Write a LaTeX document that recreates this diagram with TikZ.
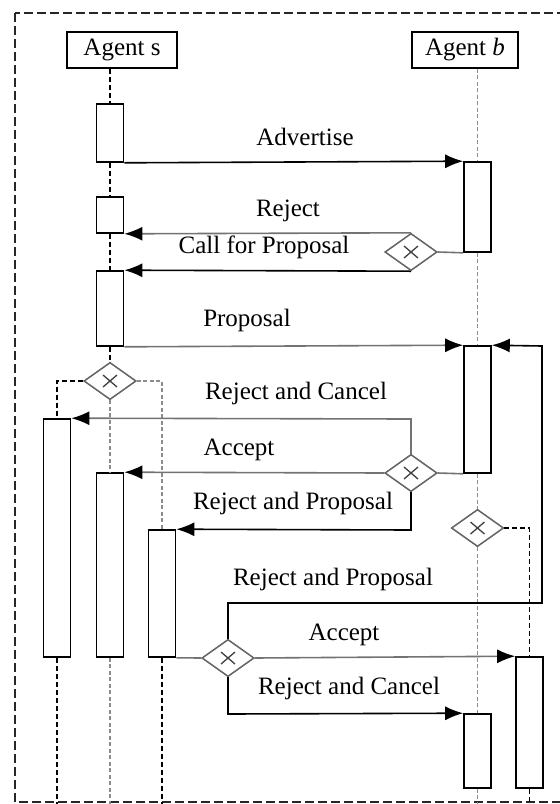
\documentclass[tikz,border=0pt]{standalone}
\usepackage{fontspec}
\setmainfont{Liberation Serif}
\usetikzlibrary{arrows.meta,shapes.geometric}
\begin{document}
\begin{tikzpicture}[x=1pt,y=-1pt,
  lbl/.style={font=\fontsize{25}{28}\selectfont, inner sep=0pt},
  agent/.style={draw, line width=1.6pt, minimum height=36pt, inner sep=0pt, font=\fontsize{25}{28}\selectfont},
  act/.style={draw, line width=1.6pt, minimum width=27pt, inner sep=0pt, fill=white},
  gate/.style={draw=black!60, line width=1.4pt, diamond, minimum width=52pt, minimum height=37pt, inner sep=0pt, aspect=1.4, fill=white,
    path picture={\draw[black!75, line width=1.3pt] ([shift={(-7pt,-6pt)}]path picture bounding box.center) -- ([shift={(7pt,6pt)}]path picture bounding box.center)
      ([shift={(-7pt,6pt)}]path picture bounding box.center) -- ([shift={(7pt,-6pt)}]path picture bounding box.center);}},
  msg/.style={line width=1.6pt, -{Latex[length=18pt,width=14pt,color=black]}},
  msggray/.style={msg, draw=black!55},
  lnk/.style={line width=1.6pt, draw=black!55},
  life/.style={line width=1.8pt, dash pattern=on 5pt off 3pt},
  lifegray/.style={line width=1.8pt, dash pattern=on 4pt off 2.5pt, draw=black!45},
  frame/.style={line width=1.8pt, dash pattern=on 9pt off 4pt, draw=black!85}]
\clip (0,0) rectangle (560,804);
\fill[white] (0,0) rectangle (560,804);
\draw[frame] (15,13) rectangle (600,802);

% agents
\node[agent, minimum width=110pt] (as) at (122,50) {Agent s};
\node[agent, minimum width=106pt] (ab) at (465,50) {Agent \textit{b}};

% activations (agent s side)
\node[act, minimum height=58pt] (s1) at (110,133) {};
\node[act, minimum height=36pt] (s2) at (110,215) {};
\node[act, minimum height=75pt] (s3) at (110,308.5) {};
\node[act, minimum height=238pt] (sL) at (57,538) {};
\node[act, minimum height=184pt] (s4) at (110,565) {};
\node[act, minimum height=127pt] (s5) at (162,593.5) {};
% activations (agent b side)
\node[act, minimum height=90pt] (b1) at (477.5,207) {};
\node[act, minimum height=127pt] (b2) at (477.5,409.5) {};
\node[act, minimum height=74pt] (b3) at (477.5,751) {};
\node[act, minimum height=131pt] (b4) at (529.5,722.5) {};

% gateways
\node[gate] (d1) at (411,252) {};
\node[gate] (d2) at (110,381) {};
\node[gate] (d4) at (411,473) {};
\node[gate] (d5) at (477.5,528) {};
\node[gate] (d3) at (228,658) {};

% helper coordinates
\coordinate (c2l) at (57,381);
\coordinate (c2r) at (162,381);
\coordinate (c4u) at (411,419);
\coordinate (c4d) at (411,530);
\coordinate (c5r) at (529.5,528);
\coordinate (c3u) at (228,603);
\coordinate (cr1) at (542,603);
\coordinate (cr2) at (542,346);
\coordinate (c3d) at (228,714);
\coordinate (eL) at (57,804);
\coordinate (e4) at (110,804);
\coordinate (e5) at (162,804);
\coordinate (eb3) at (477.5,804);
\coordinate (eb4) at (529.5,804);

% lifelines
\draw[life] (as.south -| s1.north) -- (s1.north);
\draw[life] (s1.south) -- (s2.north);
\draw[life] (s2.south) -- (s3.north);
\draw[life] (s3.south) -- (d2.north);
\draw[life] (d2.west) -- (c2l) -- (sL.north);
\draw[lifegray] (d2.east) -- (c2r) -- (s5.north);
\draw[lifegray] (d2.south) -- (s4.north);
\draw[life] (sL.south) -- (eL);
\draw[lifegray] (s4.south) -- (e4);
\draw[life] (s5.south) -- (e5);
\draw[lifegray] (ab.south -| b1.north) -- (b1.north);
\draw[lifegray] (b1.south) -- (b2.north);
\draw[lifegray] (b2.south) -- (d5.north);
\draw[lifegray] (d5.south) -- (b3.north);
\draw[life] (d5.east) -- (c5r) -- (b4.north);
\draw[lifegray] (b3.south) -- (eb3);
\draw[life] (b4.south) -- (eb4);

% messages
\draw[msg] (s1.south east) -- (b1.north west);
\draw[lnk] (b1.south west) -- (d1.east);
\draw[msggray] (d1.north) -- (s2.south east);
\draw[msg] (d1.south) -- (s3.north east);
\draw[msggray] (s3.south east) -- (b2.north west);
\draw[lnk] (b2.south west) -- (d4.east);
\draw[msggray] (d4.north) -- (c4u) -- (sL.north east);
\draw[msggray] (d4.west) -- (s4.north east);
\draw[msg] (d4.south) -- (c4d) -- (s5.north east);
\draw[lnk] (s5.south east) -- (d3.west);
\draw[msg] (d3.north) -- (c3u) -- (cr1) -- (cr2) -- (b2.north east);
\draw[msggray] (d3.east) -- (b4.north west);
\draw[msg] (d3.south) -- (c3d) -- (b3.north west);

% redraw gateways on top
\node[gate] at (d1) {};
\node[gate] at (d2) {};
\node[gate] at (d4) {};
\node[gate] at (d5) {};
\node[gate] at (d3) {};

% labels
\node[lbl] (tAdv) at (305,137) {Advertise};
\node[lbl] (tRej) at (288,211) {Reject};
\node[lbl] (tCfp) at (264,247) {Call for Proposal};
\node[lbl] (tProp) at (247,320) {Proposal};
\node[lbl] (tRC1) at (296,393) {Reject and Cancel};
\node[lbl] (tAcc1) at (239,450) {Accept};
\node[lbl] (tRP1) at (293,503) {Reject and Proposal};
\node[lbl] (tRP2) at (333,579) {Reject and Proposal};
\node[lbl] (tAcc2) at (344,635) {Accept};
\node[lbl] (tRC2) at (349,688) {Reject and Cancel};
\end{tikzpicture}
\end{document}
